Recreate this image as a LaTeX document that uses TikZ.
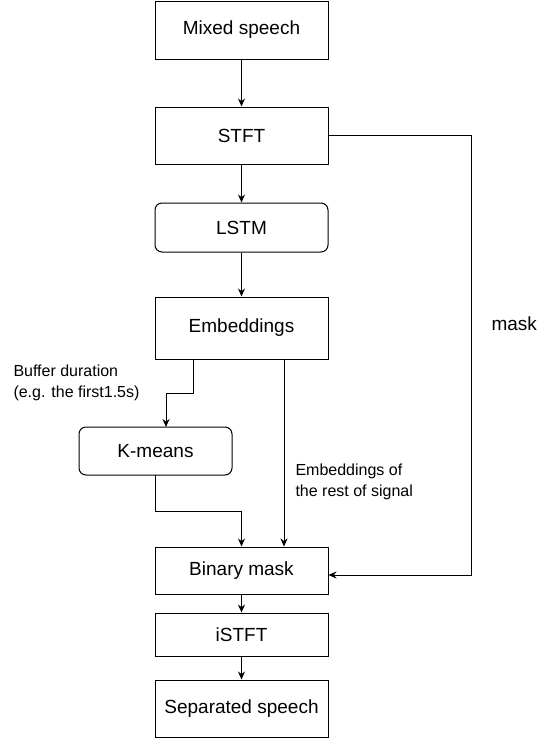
\documentclass[tikz,border=0pt]{standalone}
\usepackage{fontspec}
\setmainfont{Liberation Sans}
\usetikzlibrary{arrows.meta,calc}

\begin{document}
\begin{tikzpicture}[x=1pt,y=-1pt,line width=1pt,
  >={Stealth[length=8pt,width=7pt]},
  font=\fontsize{19}{23}\selectfont,
  blocco/.style={draw,minimum width=173pt,inner sep=0pt},
  tondo/.style={blocco,rounded corners=7pt},
  nota/.style={anchor=west,align=left,inner sep=0pt,font=\fontsize{16}{21}\selectfont}]

\useasboundingbox (0,0) rectangle (541,740);

\node[blocco,minimum height=58pt] (mix) at (241.5,30) {Mixed speech};
\node[blocco,minimum height=57pt] (stft) at (241.5,135.5) {STFT};
\node[tondo,minimum height=49pt] (lstm) at (241.5,227.5) {LSTM};
\node[blocco,minimum height=62pt] (emb) at (241.5,328) {Embeddings};
\node[tondo,minimum width=153pt,minimum height=48pt] (km) at (155.5,451) {K-means};
\node[blocco,minimum height=47pt] (bm) at (241.5,570.5) {Binary mask};
\node[blocco,minimum height=43pt] (istft) at (241.5,634.5) {iSTFT};
\node[blocco,minimum height=57pt] (sep) at (241.5,708.5) {Separated speech};

\draw[->] (mix)--(stft);
\draw[->] (stft)--(lstm);
\draw[->] (lstm)--(emb);

\coordinate (ea) at (193,359);
\coordinate (eb) at (284,359);
\coordinate (ka) at (166,427);
\coordinate (kb) at (155,475);

\draw[->] (ea) -- (193,393) -| (ka);
\draw[->] (eb) -- (eb |- bm.north);
\draw[->] (kb) -- (155,511) -| (bm.north);
\draw[->] (stft.east) -- (471,135.5) |- ([yshift=-4.5pt]bm.east);

\node[nota] (buf) at (13,382.5) {Buffer duration\\(e.g. the first1.5s)};
\node[nota] (rest) at (295,482) {Embeddings of\\the rest of signal};
\node[nota,font=\fontsize{19}{23}\selectfont] (msk) at (491,324) {mask};

\draw[->] (bm)--(istft);
\draw[->] (istft)--(sep);

\end{tikzpicture}
\end{document}
